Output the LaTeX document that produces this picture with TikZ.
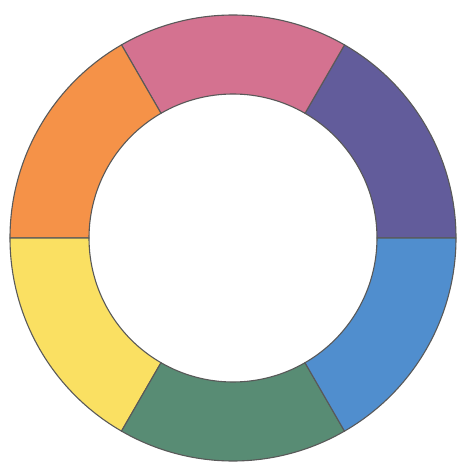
\documentclass[tikz,border=0pt]{standalone}
\usepackage{xcolor}
\usepackage{tikz}
\usetikzlibrary{calc}

\definecolor{wheelpurple}{RGB}{98,92,155}
\definecolor{wheelpink}{RGB}{212,114,144}
\definecolor{wheelorange}{RGB}{245,146,72}
\definecolor{wheelyellow}{RGB}{250,224,98}
\definecolor{wheelgreen}{RGB}{88,140,116}
\definecolor{wheelblue}{RGB}{80,142,206}

\begin{document}
\begin{tikzpicture}[x=1pt, y=1pt,
    segment/.style={draw=black!65, line width=1.1pt, line join=round}]

\useasboundingbox (0,0) rectangle (457,464);
\coordinate (c) at (233,226);

% Six segments of the ring
\foreach \a/\col [evaluate=\a as \b using \a+60] in
    {0/wheelpurple, 60/wheelpink, 120/wheelorange,
     180/wheelyellow, 240/wheelgreen, 300/wheelblue} {
  \draw[segment, fill=\col] ($(c)+(\a:223)$)
    arc[start angle=\a, end angle=\b, radius=223]
    -- ($(c)+(\b:144)$)
    arc[start angle=\b, end angle=\a, radius=144] -- cycle;
}

\end{tikzpicture}
\end{document}
